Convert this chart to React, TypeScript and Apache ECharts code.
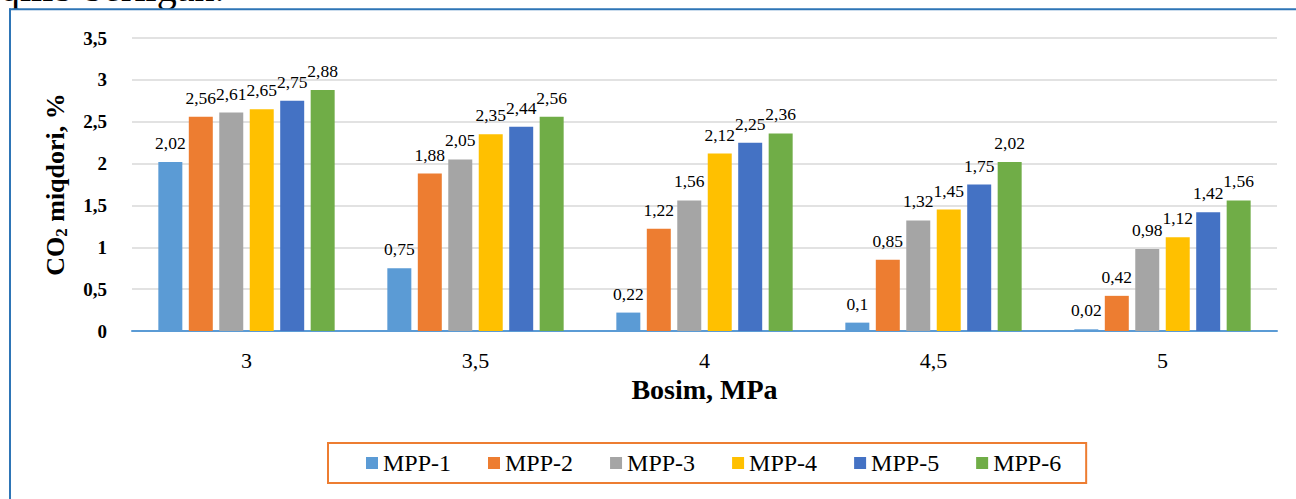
import React, { useEffect, useRef } from "react";
import * as echarts from "echarts";

const categories = ["3", "3,5", "4", "4,5", "5"];
const seriesNames = ["MPP-1", "MPP-2", "MPP-3", "MPP-4", "MPP-5", "MPP-6"];
const mpp1 = [2.02, 0.75, 0.22, 0.1, 0.02];
const mpp2 = [2.56, 1.88, 1.22, 0.85, 0.42];
const mpp3 = [2.61, 2.05, 1.56, 1.32, 0.98];
const mpp4 = [2.65, 2.35, 2.12, 1.45, 1.12];
const mpp5 = [2.75, 2.44, 2.25, 1.75, 1.42];
const mpp6 = [2.88, 2.56, 2.36, 2.02, 1.56];
const seriesValues = [mpp1, mpp2, mpp3, mpp4, mpp5, mpp6];
const colors = ["#5B9BD5", "#ED7D31", "#A5A5A5", "#FFC000", "#4472C4", "#70AD47"];

const FONT = "Liberation Serif, Times New Roman, serif";
const comma = (v: number | string) => String(v).replace(".", ",");

export default function App() {
  const ref = useRef<HTMLDivElement>(null);
  useEffect(() => {
    document.body.style.margin = "0";
    const chart = echarts.init(ref.current!, null, { renderer: "svg" });
    chart.setOption({
      animation: false,
      backgroundColor: "#ffffff",
      textStyle: { fontFamily: FONT },
      grid: { left: 132, right: 19, top: 38, bottom: 168 },
      legend: {
        data: seriesNames,
        left: 328,
        top: 443,
        itemWidth: 12,
        itemHeight: 12,
        itemGap: 37,
        icon: "rect",
        padding: [8, 25, 8, 38],
        borderColor: "#ED7D31",
        borderWidth: 2,
        textStyle: { fontFamily: FONT, fontSize: 24, color: "#000" },
      },
      xAxis: {
        type: "category",
        data: categories,
        name: "Bosim, MPa",
        nameLocation: "middle",
        nameGap: 41,
        nameTextStyle: { fontFamily: FONT, fontSize: 28, fontWeight: "bold", color: "#000" },
        axisLine: { lineStyle: { color: "#5B9BD5", width: 2 } },
        axisTick: { show: false },
        axisLabel: { fontFamily: FONT, fontSize: 22, color: "#000", margin: 18 },
      },
      yAxis: {
        type: "value",
        min: 0,
        max: 3.5,
        interval: 0.5,
        name: "{b|CO}{s|2}{b| miqdori, %}",
        nameLocation: "middle",
        nameRotate: 90,
        nameGap: 62,
        nameTextStyle: {
          rich: {
            b: { fontFamily: FONT, fontSize: 26, fontWeight: "bold", color: "#000", lineHeight: 30 },
            s: { fontFamily: FONT, fontSize: 17, fontWeight: "bold", color: "#000", lineHeight: 14, verticalAlign: "bottom" },
          },
        },
        axisLine: { show: false },
        axisTick: { show: false },
        splitLine: { lineStyle: { color: "#D9D9D9", width: 1.5 } },
        axisLabel: {
          fontFamily: FONT,
          fontSize: 19,
          fontWeight: "bold",
          color: "#000",
          margin: 25,
          formatter: (v: number) => comma(v),
        },
      },
      series: seriesNames.map((name, i) => ({
        name,
        type: "bar",
        data: seriesValues[i],
        barGap: "27%",
        barCategoryGap: "23%",
        itemStyle: { color: colors[i] },
        label: {
          show: true,
          position: "top",
          distance: 10,
          fontFamily: FONT,
          fontSize: 17.5,
          color: "#000",
          formatter: (p: any) => comma(p.value),
        },
      })),
      graphic: [
        {
          type: "text",
          left: 0,
          top: -33,
          style: { text: "qilib berilgan.", font: `40px ${FONT}`, fill: "#000" },
        },
        {
          type: "line",
          shape: { x1: 10, y1: 8.5, x2: 10, y2: 499 },
          style: { stroke: "#2E75B6", lineWidth: 2 },
        },
        {
          type: "line",
          shape: { x1: 9, y1: 9.2, x2: 1296, y2: 9.2 },
          style: { stroke: "#2E75B6", lineWidth: 2 },
        },
      ],
    });
    return () => chart.dispose();
  }, []);
  return (
    <div
      ref={ref}
      style={{ position: "fixed", left: 0, top: 0, width: 1296, height: 499 }}
    />
  );
}
